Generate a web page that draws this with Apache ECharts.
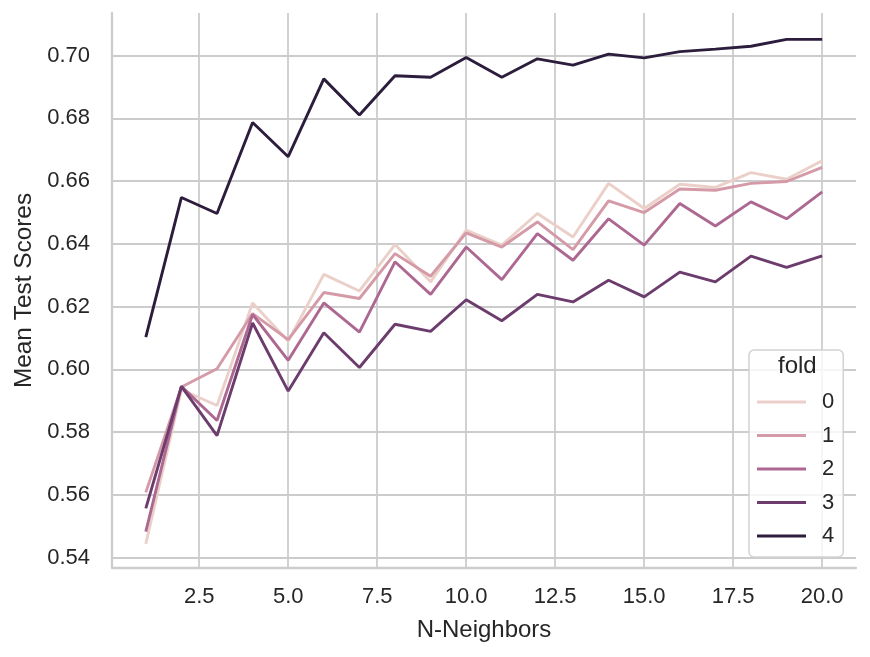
<!DOCTYPE html>
<html>
<head>
<meta charset="utf-8">
<script src="https://cdn.jsdelivr.net/npm/echarts@6/dist/echarts.min.js"></script>
<style>
html,body{margin:0;padding:0;background:#fff;}
#chart{width:870px;height:657px;}
</style>
</head>
<body>
<div id="chart"></div>
<script>
var neighbors = [1,2,3,4,5,6,7,8,9,10,11,12,13,14,15,16,17,18,19,20];
var foldNames = ['0','1','2','3','4'];
var fold0 = [0.5444,0.5935,0.5885,0.6212,0.6090,0.6303,0.6250,0.6398,0.6279,0.6444,0.6396,0.6497,0.6422,0.6593,0.6513,0.6590,0.6580,0.6627,0.6606,0.6665];
var fold1 = [0.5608,0.5944,0.6002,0.6178,0.6095,0.6245,0.6226,0.6369,0.6297,0.6435,0.6390,0.6470,0.6382,0.6537,0.6500,0.6575,0.6571,0.6593,0.6599,0.6644];
var fold2 = [0.5483,0.5946,0.5837,0.6175,0.6029,0.6212,0.6119,0.6343,0.6239,0.6390,0.6286,0.6433,0.6348,0.6480,0.6396,0.6529,0.6457,0.6534,0.6480,0.6566];
var fold3 = [0.5557,0.5946,0.5789,0.6148,0.5931,0.6117,0.6006,0.6144,0.6121,0.6222,0.6155,0.6239,0.6215,0.6284,0.6231,0.6310,0.6279,0.6361,0.6325,0.6362];
var fold4 = [0.6103,0.6548,0.6497,0.6787,0.6678,0.6926,0.6811,0.6936,0.6931,0.6994,0.6931,0.6990,0.6970,0.7005,0.6993,0.7013,0.7021,0.7030,0.7052,0.7052];
var xTicks = [2.5,5.0,7.5,10.0,12.5,15.0,17.5,20.0];
var yTicks = [0.54,0.56,0.58,0.60,0.62,0.64,0.66,0.68,0.70];
var foldColors = ['#ebd0c9','#d59aa7','#ad6892','#6c3c6d','#2c1d3c'];

var allFolds = [fold0, fold1, fold2, fold3, fold4];
var FONT = 'Liberation Sans, Arial, sans-serif';
var TXT = '#262626';
var GRIDC = '#cccccc';

var series = allFolds.map(function (vals, k) {
  return {
    name: foldNames[k],
    type: 'line',
    data: neighbors.map(function (n, i) { return [n, vals[i]]; }),
    showSymbol: false,
    symbol: 'none',
    lineStyle: { color: foldColors[k], width: 2.9 },
    itemStyle: { color: foldColors[k] },
    z: 2 + k
  };
});

var chart = echarts.init(document.getElementById('chart'));
chart.setOption({
  animation: false,
  backgroundColor: '#ffffff',
  textStyle: { fontFamily: FONT },
  title: {
    text: 'fold', left: 778, top: 354, padding: 0,
    textStyle: { fontFamily: FONT, fontSize: 24, fontWeight: 'normal', color: TXT }
  },
  legend: {
    data: foldNames,
    orient: 'vertical',
    left: 749, top: 350,
    padding: [40, 9, 9, 8],
    itemWidth: 49, itemHeight: 3,
    itemGap: 9.5,
    icon: 'rect',
    backgroundColor: 'rgba(255,255,255,0.8)',
    borderColor: '#d2d2d2', borderWidth: 1.5, borderRadius: 5,
    textStyle: { fontFamily: FONT, fontSize: 22, color: TXT, lineHeight: 24, padding: [0,0,0,11] }
  },
  grid: { left: 112, right: 14, top: 13, bottom: 89, containLabel: false },
  xAxis: {
    type: 'value', min: 0.05, max: 20.95,
    name: 'N-Neighbors', nameLocation: 'middle', nameGap: 50,
    nameTextStyle: { fontFamily: FONT, fontSize: 24, color: TXT },
    axisLine: { show: true, lineStyle: { color: GRIDC, width: 2.3 } },
    axisTick: { show: false, customValues: xTicks },
    axisLabel: { customValues: xTicks, margin: 18, fontFamily: FONT, fontSize: 22, color: TXT,
      formatter: function (v) { return v.toFixed(1); } },
    splitLine: { show: true, lineStyle: { color: GRIDC, width: 1.8 } }
  },
  yAxis: {
    type: 'value', min: 0.5367, max: 0.7136,
    name: 'Mean Test Scores', nameLocation: 'middle', nameGap: 75,
    nameTextStyle: { fontFamily: FONT, fontSize: 24.4, color: TXT },
    axisLine: { show: true, lineStyle: { color: GRIDC, width: 2.3 } },
    axisTick: { show: false, customValues: yTicks },
    axisLabel: { customValues: yTicks, margin: 22, fontFamily: FONT, fontSize: 22, color: TXT,
      formatter: function (v) { return v.toFixed(2); } },
    splitLine: { show: true, lineStyle: { color: GRIDC, width: 1.8 } }
  },
  series: series
});
</script>
</body>
</html>
